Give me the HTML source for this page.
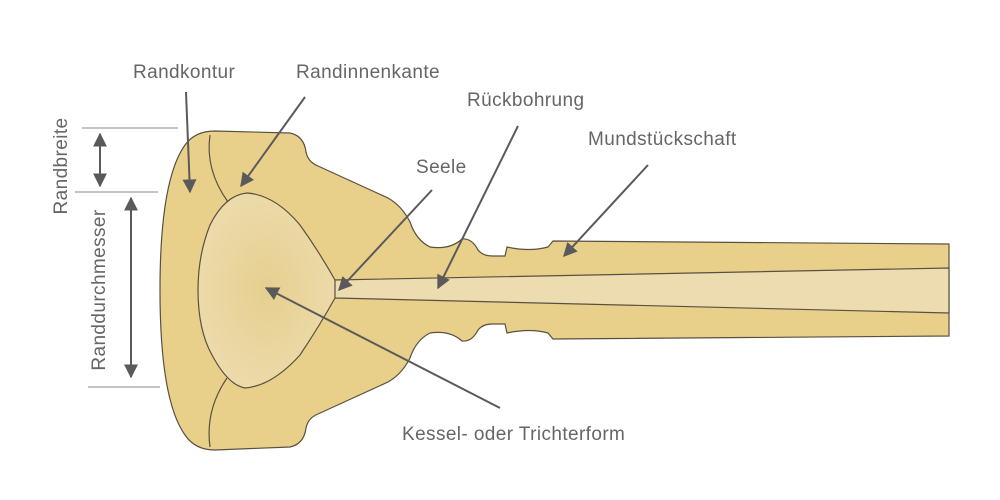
<!DOCTYPE html>
<html><head><meta charset="utf-8"><style>
html,body{margin:0;padding:0;background:#fff;}
svg{display:block;}
text{font-family:"Liberation Sans",sans-serif;font-size:19px;fill:#666;letter-spacing:0.4px;}
</style></head><body>
<svg width="1000" height="500" viewBox="0 0 1000 500" xmlns="http://www.w3.org/2000/svg">
<defs>
<radialGradient id="g" cx="0.5" cy="0.5" r="0.6">
<stop offset="0" stop-color="#e6cf8f"/><stop offset="1" stop-color="#eddcae"/>
</radialGradient>
<marker id="a" viewBox="0 0 10 10" refX="9" refY="5" markerWidth="14" markerHeight="14" markerUnits="userSpaceOnUse" orient="auto">
<path d="M0,0 L10,5 L0,10z" fill="#5a5a5a"/></marker>
<marker id="b" viewBox="0 0 10 10" refX="1" refY="5" markerWidth="14" markerHeight="14" markerUnits="userSpaceOnUse" orient="auto">
<path d="M10,0 L0,5 L10,10z" fill="#5a5a5a"/></marker>
</defs>
<path d="M215,131 L290,133 Q304,136 306,152 Q308,162 318,166 L388,198 Q402,206 410,222 Q416,240 430,247 Q450,250 462,239 Q472,238 478,250 Q483,256 492,256 L505,256 L507,247 Q530,252 548,247 L553,241 L949,244 L949,336 L553,339 L548,333 Q530,328 507,333 L505,324 L492,324 Q483,324 478,330 Q472,342 462,341 Q450,330 430,333 Q416,340 410,358 Q402,374 388,382 L318,414 Q308,418 306,428 Q304,444 290,447 L215,450 Q195,450 185,435 Q160,400 160,290 Q160,180 185,145 Q195,131 215,131Z" fill="#e8d08b" stroke="#5a5040" stroke-width="1.2"/>
<path d="M333,280 L949,268 L949,313 L335,298Z" fill="#ecdcb0" stroke="#5a5040" stroke-width="1.2"/>
<path d="M335,280 Q318,250 300,225 Q275,195 247,193 Q225,195 210,225 Q198,255 198,290 Q198,330 212,355 Q228,385 245,388 Q272,386 300,355 Q320,325 335,298 Z" fill="url(#g)" stroke="#5a5040" stroke-width="1.2"/>
<path d="M210,135 Q205,170 228,202" fill="none" stroke="#5a5040" stroke-width="1.2"/>
<path d="M227,378 Q205,410 210,447" fill="none" stroke="#5a5040" stroke-width="1.2"/>
<g stroke="#888" stroke-width="1">
<line x1="82" y1="128" x2="178" y2="128"/>
<line x1="75" y1="192" x2="158" y2="192"/>
<line x1="88" y1="387" x2="160" y2="387"/>
</g>
<g stroke="#5a5a5a" stroke-width="2" fill="none">
<line x1="100" y1="134" x2="100" y2="186" marker-start="url(#b)" marker-end="url(#a)"/>
<line x1="131" y1="198" x2="131" y2="377" marker-start="url(#b)" marker-end="url(#a)"/>
<line x1="186" y1="92" x2="190" y2="192" marker-end="url(#a)"/>
<line x1="305" y1="97" x2="241" y2="186" marker-end="url(#a)"/>
<line x1="518" y1="126" x2="438" y2="288" marker-end="url(#a)"/>
<line x1="432" y1="190" x2="339" y2="290" marker-end="url(#a)"/>
<line x1="648" y1="165" x2="564" y2="256" marker-end="url(#a)"/>
<line x1="500" y1="408" x2="266" y2="288" marker-end="url(#a)"/>
</g>
<text x="133" y="78">Randkontur</text>
<text x="296" y="78">Randinnenkante</text>
<text x="467" y="106">Rückbohrung</text>
<text x="416" y="173">Seele</text>
<text x="588" y="145">Mundstückschaft</text>
<text x="402" y="440">Kessel- oder Trichterform</text>
<text transform="translate(67,166) rotate(-90)" text-anchor="middle">Randbreite</text>
<text transform="translate(105,290) rotate(-90)" text-anchor="middle">Randdurchmesser</text>
</svg>
</body></html>
